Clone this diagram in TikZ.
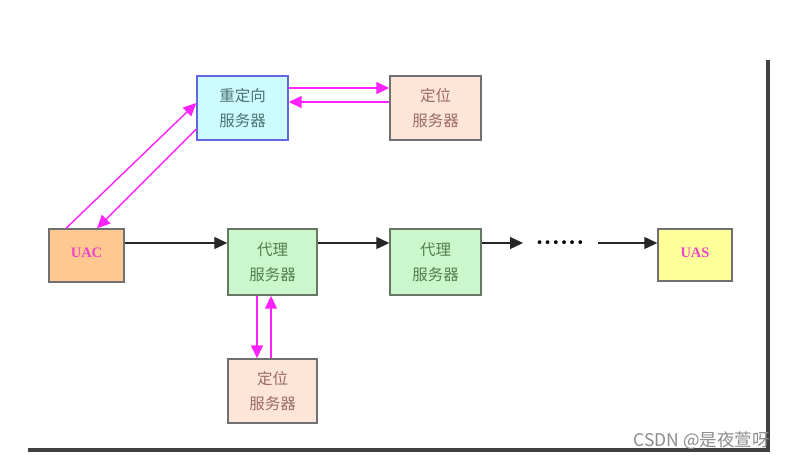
\documentclass[tikz,border=0pt]{standalone}
\usepackage{fontspec}
\newfontfamily\cjk{Noto Sans CJK SC}
\newfontfamily\tnr{Liberation Serif}
\usetikzlibrary{arrows.meta}
\definecolor{redirfill}{HTML}{CCFCFF}
\definecolor{redirdraw}{HTML}{6565E0}
\definecolor{redirtext}{HTML}{4D7373}
\definecolor{locfill}{HTML}{FDE6D8}
\definecolor{loctext}{HTML}{9B6B63}
\definecolor{proxyfill}{HTML}{CCF7CC}
\definecolor{proxydraw}{HTML}{667766}
\definecolor{proxytext}{HTML}{4F7F4F}
\definecolor{uacfill}{HTML}{FFC890}
\definecolor{uasfill}{HTML}{FFFF99}
\definecolor{boxdraw}{HTML}{707070}
\definecolor{uatext}{HTML}{EE44CC}
\definecolor{pinkline}{HTML}{FF22FF}
\definecolor{frameline}{HTML}{404040}
\begin{document}
\begin{tikzpicture}[x=1pt,y=-1pt,
  box/.style={rectangle,inner sep=0pt,line width=1.4pt,align=center,
    font=\cjk\fontsize{15.5}{25}\selectfont},
  redirbox/.style={box,fill=redirfill,draw=redirdraw,text=redirtext,minimum width=91pt,minimum height=64pt},
  locbox/.style={box,fill=locfill,draw=boxdraw,text=loctext},
  proxybox/.style={box,fill=proxyfill,draw=proxydraw,text=proxytext},
  uabox/.style={box,draw=boxdraw,text=uatext,font=\tnr\bfseries\fontsize{14.5}{14.5}\selectfont},
  pinkarrow/.style={draw=pinkline,line width=1.4pt,-{Triangle[length=13pt,width=12pt]}},
  blackarrow/.style={draw=black!85,line width=1.2pt,-{Triangle[length=13pt,width=12pt]}},
  dotsnode/.style={inner sep=0pt,font=\bfseries\fontsize{26}{26}\selectfont},
  frame/.style={draw=frameline,line width=3.5pt},
  watermark/.style={inner sep=0pt,text=black!45,font=\cjk\fontsize{17.5}{18}\selectfont}
]
\useasboundingbox (0,0) rectangle (786,459);
\fill[white] (0,0) rectangle (786,459);

% frame lines
\coordinate (ftop) at (768,60);
\coordinate (fcorner) at (768,450);
\coordinate (fleft) at (28,450);
\draw[frame] (ftop) -- (fcorner) -- (fleft);

% boxes
\node[redirbox] (redir) at (242.5,108) {重定向\\服务器};
\node[locbox,minimum width=91pt,minimum height=64pt] (loc1) at (435.5,108) {定位\\服务器};
\node[uabox,fill=uacfill,minimum width=75pt,minimum height=53pt] (uac) at (86.5,255.5) {\raisebox{5pt}{UAC}};
\node[proxybox,minimum width=89pt,minimum height=66pt] (proxy1) at (272.5,262) {代理\\服务器};
\node[proxybox,minimum width=91pt,minimum height=66pt] (proxy2) at (435.5,262) {代理\\服务器};
\node[locbox,minimum width=89pt,minimum height=64pt] (loc2) at (272.5,391) {定位\\服务器};
\node[uabox,fill=uasfill,minimum width=74pt,minimum height=52pt] (uas) at (695,255) {\raisebox{5pt}{UAS}};

% dots
\node[dotsnode] (dots) at (560,243) {......};
\coordinate (d1) at (523,243);
\coordinate (d2) at (598,243);

% pink arrows
\draw[pinkarrow] ([yshift=20pt]redir.east) -- ([yshift=20pt]loc1.west);
\draw[pinkarrow] ([yshift=6pt]loc1.west) -- ([yshift=6pt]redir.east);
\draw[pinkarrow] ([xshift=-20.5pt]uac.north) -- ([yshift=5pt]redir.west);
\draw[pinkarrow] ([yshift=-21pt]redir.west) -- ([xshift=10.5pt]uac.north);
\draw[pinkarrow] ([xshift=-15.5pt]proxy1.south) -- ([xshift=-15.5pt]loc2.north);
\draw[pinkarrow] ([xshift=-1.5pt]loc2.north) -- ([xshift=-1.5pt]proxy1.south);

% black arrows
\draw[blackarrow] ([yshift=12.5pt]uac.east) -- ([yshift=19pt]proxy1.west);
\draw[blackarrow] ([yshift=19pt]proxy1.east) -- ([yshift=19pt]proxy2.west);
\draw[blackarrow] ([yshift=19pt]proxy2.east) -- (d1);
\draw[blackarrow] (d2) -- ([yshift=12pt]uas.west);

% watermark
\node[watermark,anchor=east] (wm) at (770,441) {CSDN @是夜萱呀};
\end{tikzpicture}
\end{document}
